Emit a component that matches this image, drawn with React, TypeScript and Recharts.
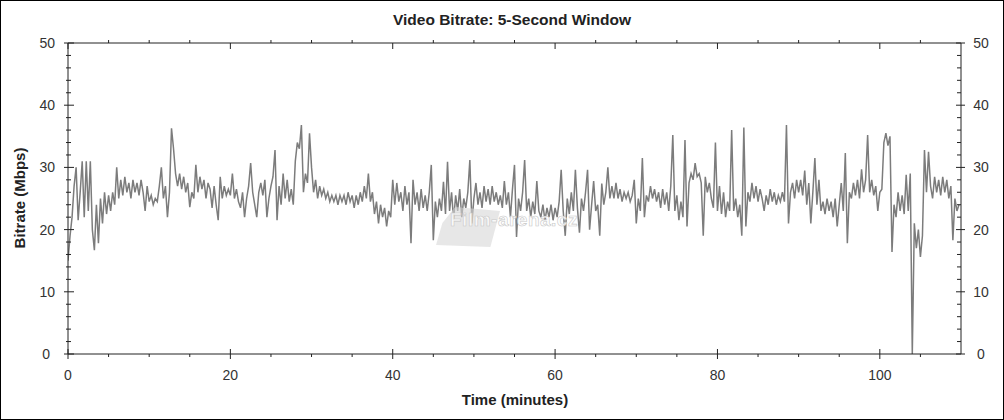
import { LineChart, Line, XAxis, YAxis } from "recharts";

document.body.style.margin = "0";

// bitrate samples (Mbps), one every 0.25 min, grouped per 10 minutes
const SEG_00 = [15, 19, 22, 27, 30, 21.5, 26, 31, 22, 31, 23, 31, 20, 16.7, 24, 17.8, 25, 21, 26, 22.5, 25.5, 23, 26, 24, 30, 25, 28, 25.5, 28.5, 26, 27.5, 25, 28, 26, 27.5, 25.5, 28, 26, 23, 27];
const SEG_10 = [24.5, 25.5, 24, 25, 24.5, 27, 30, 25, 27, 22, 26, 36.3, 33, 29, 27, 29, 26.5, 28.5, 26, 27.5, 23.6, 26, 25, 30.4, 26, 28.5, 26.5, 28, 25, 27.5, 26.5, 23.5, 27, 24, 21.5, 28.5, 25, 27, 25.5, 26.5];
const SEG_20 = [25.5, 29, 25, 26.5, 24.5, 23.5, 26, 22, 25, 27, 30.7, 26, 24, 22, 26, 27.5, 25.5, 28, 22, 25, 27, 28.5, 32.8, 21.5, 27, 24, 29, 25, 28, 24.5, 26.5, 24, 31, 34, 33, 36.8, 26, 29, 27.5, 35.5];
const SEG_30 = [30, 26, 28, 25, 27, 25.5, 26.5, 25, 26, 24.5, 25.5, 24.5, 25.5, 24, 25.5, 24.5, 25.5, 24, 26, 24.5, 25.5, 23.5, 25.5, 24, 26, 24.5, 27, 25, 29, 24.5, 26, 22.5, 24.5, 21, 24, 22, 23.5, 20.5, 23, 22];
const SEG_40 = [28, 24, 27.5, 24.5, 26, 23, 27, 24, 26, 17.8, 28, 24, 26, 23, 26.5, 23.5, 25.5, 23, 26, 30.4, 18.3, 24.5, 22, 25, 23, 27.7, 22.5, 30.9, 23, 26, 21.5, 25.5, 23, 26.5, 22, 25, 23.5, 26, 31.2, 21];
const SEG_50 = [25, 27.5, 24, 26, 23.5, 27, 24.5, 26.5, 24, 27, 24.5, 26, 24, 25.5, 23.5, 27.8, 24, 26, 22, 26.5, 30.4, 18.8, 25, 23, 26, 31.2, 23, 25, 22, 24.5, 22.5, 27.8, 23, 22, 24, 21.5, 23.5, 22, 24, 21.5];
const SEG_60 = [23.5, 22, 24.5, 29.6, 23, 19, 25, 22.5, 26, 23, 29.6, 23.5, 19.5, 25, 23, 26, 29.6, 20, 24, 27.8, 23, 24, 19, 27.4, 24, 26, 30, 25, 27, 25, 27.5, 25, 26.5, 24.5, 26, 25, 26, 24.5, 25.5, 28];
const SEG_70 = [21, 25, 23, 31.5, 22, 25.5, 24.5, 27, 25, 26.5, 24.5, 26, 23.5, 26.5, 24, 26, 23, 27, 35.2, 23, 25.5, 21.5, 24.5, 22, 34.4, 20.5, 27.5, 29, 28, 30.7, 28.5, 29, 27.5, 19, 28.5, 26, 27.5, 25, 23.5, 34];
const SEG_80 = [23, 27, 22.5, 26, 22, 24.5, 23, 36, 23, 25, 22, 24, 19, 36.4, 20.5, 26, 24.5, 27.5, 25, 27, 24.5, 26.5, 25, 23, 25.5, 24, 26.5, 24.5, 26, 24, 25.5, 24.5, 26, 24.5, 36.8, 21, 26, 27.5, 25, 28];
const SEG_90 = [26, 28, 25.5, 29.5, 24, 27.5, 21, 26, 31.5, 24, 28, 23, 24.5, 22.5, 25, 23, 24.5, 22, 25, 20.5, 24, 27.5, 23, 32.3, 17.8, 26, 25, 27.5, 25.5, 28, 25, 29.7, 26, 28, 35.2, 26, 28, 25.5, 27, 23];
const SEG_100 = [26, 26.5, 34, 35.5, 33.5, 35, 16.4, 24, 22, 26, 23, 25.5, 22.5, 28.8, 23, 29, 0, 21, 17, 20, 15.6, 19, 32.8, 26, 32.5, 27, 25, 28.5, 26, 28, 25.5, 28.5, 26, 28, 25, 27, 18.3, 25, 23, 24];

const SEGMENTS = [SEG_00, SEG_10, SEG_20, SEG_30, SEG_40, SEG_50, SEG_60, SEG_70, SEG_80, SEG_90, SEG_100];
const STEP = 0.25;

const X_TICKS = [0, 5, 10, 15, 20, 25, 30, 35, 40, 45, 50, 55, 60, 65, 70, 75, 80, 85, 90, 95, 100, 105];
const Y_TICKS = [0, 2, 4, 6, 8, 10, 12, 14, 16, 18, 20, 22, 24, 26, 28, 30, 32, 34, 36, 38, 40, 42, 44, 46, 48, 50];

const data = SEGMENTS.flatMap((seg, s) =>
  seg.map((v, i) => ({ t: s * 10 + i * STEP, v }))
);

const FONT = "Arial, 'Liberation Sans', sans-serif";
const AXIS = "#222";
const LABEL = "#333";

function LeftTick({ x, y, payload }: any) {
  const v = payload.value;
  const major = v % 10 === 0;
  return (
    <g>
      <line x1={x - (major ? 4 : 2)} x2={x + (major ? 6 : 3)} y1={y} y2={y} stroke={AXIS} />
      {major && (
        <text x={v === 0 ? x - 18 : x - 13} y={y} dy="0.36em" textAnchor="end" fontSize={14} fill={LABEL} fontFamily={FONT}>
          {v}
        </text>
      )}
    </g>
  );
}

function RightTick({ x, y, payload }: any) {
  const v = payload.value;
  const major = v % 10 === 0;
  return (
    <g>
      <line x1={x - (major ? 5 : 4)} x2={x + (major ? 4 : 0)} y1={y} y2={y} stroke={AXIS} />
      {major && (
        <text x={x + 20} y={y} dy="0.36em" textAnchor="middle" fontSize={14} fill={LABEL} fontFamily={FONT}>
          {v}
        </text>
      )}
    </g>
  );
}

function BottomTick({ x, y, payload }: any) {
  const v = payload.value;
  const major = v % 20 === 0;
  return (
    <g>
      <line x1={x} x2={x} y1={major ? y - 5 : y} y2={major ? y + 5 : y + 3} stroke={AXIS} />
      {major && (
        <text x={x} y={y + 26} textAnchor="middle" fontSize={14} fill={LABEL} fontFamily={FONT}>
          {v}
        </text>
      )}
    </g>
  );
}

function TopTick({ x, y, payload }: any) {
  const major = payload.value % 20 === 0;
  return <line x1={x} x2={x} y1={major ? y : y - 3} y2={major ? y + 6 : y} stroke={AXIS} />;
}

export default function App() {
  return (
    <div style={{ position: "relative", width: 1004, height: 420, background: "#fff", fontFamily: FONT }}>
      <LineChart width={1004} height={420} data={data} margin={{ top: 13, right: 0, bottom: 36, left: 0 }}>
        <XAxis
          xAxisId="bottom"
          dataKey="t"
          type="number"
          domain={[0, 110]}
          ticks={X_TICKS}
          interval={0}
          allowDataOverflow
          height={30}
          tickLine={false}
          tickSize={0}
          tickMargin={0}
          axisLine={{ stroke: AXIS }}
          tick={<BottomTick />}
        />
        <XAxis
          xAxisId="top"
          orientation="top"
          dataKey="t"
          type="number"
          domain={[0, 110]}
          ticks={X_TICKS}
          interval={0}
          allowDataOverflow
          height={30}
          tickLine={false}
          tickSize={0}
          tickMargin={0}
          axisLine={{ stroke: AXIS }}
          tick={<TopTick />}
        />
        <YAxis
          yAxisId="left"
          type="number"
          domain={[0, 50]}
          ticks={Y_TICKS}
          interval={0}
          allowDataOverflow
          width={68}
          tickLine={false}
          tickSize={0}
          tickMargin={0}
          axisLine={{ stroke: AXIS }}
          tick={<LeftTick />}
        />
        <YAxis
          yAxisId="right"
          orientation="right"
          type="number"
          domain={[0, 50]}
          ticks={Y_TICKS}
          interval={0}
          allowDataOverflow
          width={43}
          tickLine={false}
          tickSize={0}
          tickMargin={0}
          axisLine={{ stroke: AXIS }}
          tick={<RightTick />}
        />
        <Line
          xAxisId="bottom"
          yAxisId="left"
          type="linear"
          dataKey="v"
          stroke="#7c7c7c"
          strokeWidth={1.5}
          dot={false}
          activeDot={false}
          isAnimationActive={false}
        />
      </LineChart>

      {/* watermark */}
      <div
        style={{
          position: "absolute",
          left: 436,
          top: 207,
          width: 64,
          height: 40,
          background: "rgba(215,215,215,0.6)",
          clipPath: "polygon(30% 0, 100% 10%, 85% 100%, 0 95%, 10% 40%)",
        }}
      />
      <div
        style={{
          position: "absolute",
          left: 450,
          top: 209,
          fontSize: 19,
          fontWeight: "bold",
          color: "rgba(255,255,255,0.8)",
          WebkitTextStroke: "0.6px #c8c8c8",
          letterSpacing: 0.5,
        }}
      >
        Film-arena.cz
      </div>

      <div
        style={{
          position: "absolute",
          left: 512,
          top: 20,
          transform: "translate(-50%, -50%)",
          fontSize: 15.5,
          fontWeight: "bold",
          color: "#222",
          whiteSpace: "nowrap",
        }}
      >
        Video Bitrate: 5-Second Window
      </div>
      <div
        style={{
          position: "absolute",
          left: 19,
          top: 198,
          transform: "translate(-50%, -50%) rotate(-90deg)",
          fontSize: 15,
          fontWeight: "bold",
          color: "#222",
          whiteSpace: "nowrap",
        }}
      >
        Bitrate (Mbps)
      </div>
      <div
        style={{
          position: "absolute",
          left: 515,
          top: 399,
          transform: "translate(-50%, -50%)",
          fontSize: 15,
          fontWeight: "bold",
          color: "#222",
          whiteSpace: "nowrap",
        }}
      >
        Time (minutes)
      </div>
      <div
        style={{
          position: "absolute",
          inset: 0,
          border: "1px solid #000",
          pointerEvents: "none",
        }}
      />
    </div>
  );
}
